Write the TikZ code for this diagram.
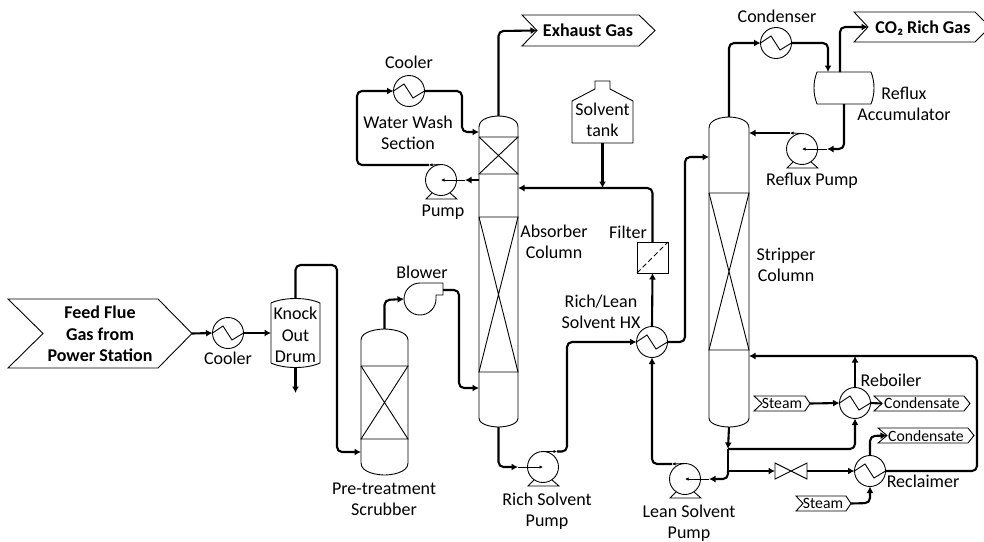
\documentclass[tikz,border=0pt]{standalone}
\usepackage{fontspec}
\setmainfont{Carlito}
\usetikzlibrary{arrows.meta,calc}
\tikzset{
  outline/.style={line width=0.9pt,black},
  pipe/.style={line width=2.1pt,black,rounded corners=5pt,-{Latex[length=6.5pt,width=7pt]}},
  plainpipe/.style={line width=2.1pt,black,rounded corners=5pt},
  thinpipe/.style={line width=0.9pt,black,-{Latex[length=3.5pt,width=3.5pt]}},
  disc/.style={circle,draw,line width=0.9pt,minimum size=31pt,inner sep=0pt,outer sep=0pt},
  vessel/.style={rectangle,draw=none,inner sep=0pt,outer sep=0pt},
  lbl/.style={font=\fontsize{18}{21.3}\selectfont,align=center,inner sep=0pt},
  slbl/.style={lbl,font=\fontsize{15.7}{19}\selectfont},
  blbl/.style={lbl,font=\fontsize{18}{21.3}\selectfont\bfseries},
}
% heat exchanger: name, position
\newcommand\hxunit[2]{\node[disc] (#1) at (#2) {};
  \draw[outline] ($(#1)+(-15.5,0)$) -- ($(#1)+(-5,-7)$) -- ($(#1)+(4,7)$) -- ($(#1)+(15.5,0)$);}
% pump: name, position
\newcommand\pumpunit[2]{\node[disc] (#1) at (#2) {};
  \draw[outline] ($(#1)+(-9,13)$) -- ($(#1)+(-15,19)$) -- ($(#1)+(16,19)$) -- ($(#1)+(9,13)$);}
% column: name, x1, x2, top, shoulder, bottom shoulder, bottom
\newcommand\columnunit[7]{%
  \node[vessel,minimum width=#3pt-#2pt,minimum height=#7pt-#4pt] (#1) at ({(#2+#3)/2},{(#4+#7)/2}) {};
  \draw[outline] (#2,#5) .. controls (#2,{#4+2}) and ({(#2+#3)/2-6},#4) .. ({(#2+#3)/2},#4)
     .. controls ({(#2+#3)/2+6},#4) and (#3,{#4+2}) .. (#3,#5) -- (#3,#6)
     .. controls (#3,{#7-2}) and ({(#2+#3)/2+6},#7) .. ({(#2+#3)/2},#7)
     .. controls ({(#2+#3)/2-6},#7) and (#2,{#7-2}) .. (#2,#6) -- cycle;}
% tag: name, x1, notch x, corner x, tip x, y1, y2
\newcommand\tagunit[7]{%
  \draw[outline] (#2,#6) -- (#4,#6) -- (#5,{(#6+#7)/2}) -- (#4,#7) -- (#2,#7) -- (#3,{(#6+#7)/2}) -- cycle;
  \coordinate (#1-in) at (#3,{(#6+#7)/2});
  \coordinate (#1-out) at (#5,{(#6+#7)/2});}
\begin{document}
\begin{tikzpicture}[x=1pt,y=-1pt]
\useasboundingbox (0,0) rectangle (984,541);

% ---------- streams
\tagunit{feed}{8}{43}{158}{192}{299}{368}
\node[blbl] (feedtxt) at (100,334) {Feed Flue\\Gas from\\Power Station};
\tagunit{exh}{522}{537}{639}{655}{15}{46}
\node[blbl] (exhtxt) at (588,30) {Exhaust Gas};
\tagunit{co}{854}{868}{975}{990}{12}{42}
\node[blbl] (cotxt) at (923,28) {CO₂ Rich Gas};
\tagunit{st1}{754}{762}{805}{810}{396}{411}
\node[slbl] (st1txt) at (782,403) {Steam};
\tagunit{st2}{796}{803}{846}{851}{496}{511}
\node[slbl] (st2txt) at (823,503) {Steam};
\tagunit{co1}{874}{882}{964}{970}{396}{411}
\node[slbl] (co1txt) at (922,403) {Condensate};
\tagunit{co2}{878}{887}{968}{974}{428}{443}
\node[slbl] (co2txt) at (926,436) {Condensate};

% ---------- columns
\columnunit{scr}{361}{408}{329}{340}{463}{475}
\draw[outline] (scr.west |- 0,366) -- (scr.east |- 0,366) -- (scr.west |- 0,439) -- (scr.east |- 0,439) -- (scr.west |- 0,366);
\columnunit{abs}{479}{518}{116}{127}{418}{427}
\draw[outline] (abs.west |- 0,137) -- (abs.east |- 0,137) -- (abs.west |- 0,174) -- (abs.east |- 0,174) -- (abs.west |- 0,137);
\draw[outline] (abs.west |- 0,217) -- (abs.east |- 0,217) -- (abs.west |- 0,372) -- (abs.east |- 0,372) -- (abs.west |- 0,217);
\columnunit{str}{709}{749}{117}{128}{418}{427}
\draw[outline] (str.west |- 0,193) -- (str.east |- 0,193) -- (str.west |- 0,350) -- (str.east |- 0,350) -- (str.west |- 0,193);

% ---------- drums, tank, filter, valve, blower
\node[vessel,minimum width=49pt,minimum height=69pt] (ko) at (295.5,332.5) {};
\draw[outline] (271,303) .. controls (284,297) and (307,297) .. (320,303) -- (320,363)
   .. controls (307,369) and (284,369) .. (271,363) -- cycle;
\node[lbl] (kotxt) at (295.5,335) {Knock\\Out\\Drum};

\node[vessel,minimum width=60pt,minimum height=32pt] (acc) at (844,88) {};
\draw[outline] (817,72) -- (871,72) .. controls (875,82) and (875,94) .. (871,104) -- (817,104)
   .. controls (813,94) and (813,82) .. (817,72) -- cycle;

\node[vessel,minimum width=61pt,minimum height=62pt] (tank) at (602.5,112) {};
\draw[outline] (572,143) -- (572,101) -- (595,89) -- (595,81) -- (610,81) -- (610,89) -- (633,101) -- (633,143) -- cycle;
\node[lbl] (tanktxt) at (602.5,120) {Solvent\\tank};

\node[rectangle,draw,line width=0.9pt,minimum size=31pt,inner sep=0pt,outer sep=0pt] (filt) at (652.5,257.5) {};
\draw[outline,dashed,dash pattern=on 5pt off 3pt] (filt.south west) -- (filt.north east);

\node[vessel,minimum width=32pt,minimum height=16pt] (val) at (791,471) {};
\draw[outline] (775,463) -- (807,479) -- (807,463) -- (775,479) -- cycle;

\node[circle,minimum size=32pt,inner sep=0pt,outer sep=0pt] (blow) at (420,299) {};
\coordinate (blowout) at (443,290);
\draw[outline] (420,283) -- (443,283) -- (443,295) -- (436,295) -- (436,299)
   arc[start angle=0,end angle=270,radius=16] ;

% ---------- exchangers and pumps
\hxunit{cool1}{228,333}
\hxunit{cool2}{409,91}
\hxunit{hx}{652,342}
\hxunit{cond}{776,43}
\hxunit{reb}{855,403}
\hxunit{rec}{870,471}
\pumpunit{pw}{441,180}
\pumpunit{pr}{543,467}
\pumpunit{pl}{685,479}
\pumpunit{pf}{802,149}

% ---------- connector helpers
\coordinate (pwin) at (465,180);
\coordinate (prin) at (518,467);
\coordinate (plin) at (709,479);
\coordinate (pfin) at (827,149);
\coordinate (pwout) at (429,165);
\coordinate (prout) at (557,451.5);
\coordinate (plout) at (672,464);
\coordinate (pfout) at (790,133);
\coordinate (j1) at (728,449);
\coordinate (j2) at (728,471);
\coordinate (j3) at (602.5,188);
\coordinate (j4) at (855,356);
\coordinate (kodrain) at (295.5,393);

% ---------- pipes
\draw[pipe] (feed-out) -- (cool1.west);
\draw[pipe] (cool1.east) -- (ko.west |- cool1.east);
\draw[pipe] (ko.north) -- (295.5,265) -- (337,265) -- (337,452) -- (scr.west |- 0,452);
\draw[pipe] (ko.south) -- (kodrain);
\draw[pipe] (scr.north) -- (384.5,300) -- (blow.west);
\draw[pipe] (blowout) -- (459,290) -- (459,388) -- (abs.west |- 0,388);
\draw[pipe] (abs.south) -- (498.5,467) -- (prin);
\draw[thinpipe] (prin) -- (pr.center);
\draw[thinpipe] (pr.north) -- (prout);
\draw[pipe] (prout) -- (567,451.5) -- (567,342) -- (hx.west);
\draw[pipe] (abs.north) -- (498.5,31) -- (exh-in);
\draw[pipe] (abs.west |- 0,180) -- (pwin);
\draw[thinpipe] (pwin) -- (pw.center);
\draw[thinpipe] (pw.north) -- (pwout);
\draw[pipe] (pwout) -- (357,165) -- (357,91) -- (cool2.west);
\draw[pipe] (cool2.east) -- (462,91) -- (462,132) -- (abs.west |- 0,132);
\draw[pipe] (hx.north) -- (filt.south);
\draw[pipe] (filt.north) -- (652.5,188) -- (abs.east |- 0,188);
\draw[pipe] (tank.south) -- (j3);
\draw[pipe] (hx.east) -- (685,342) -- (685,157) -- (str.west |- 0,157);
\draw[pipe] (str.north) -- (729,43) -- (cond.west);
\draw[pipe] (cond.east) -- (828,43) -- (828,72);
\draw[pipe] (840,72) -- (840,27) -- (co-in);
\draw[pipe] (acc.south) -- (844,149) -- (pfin);
\draw[thinpipe] (pfin) -- (pf.center);
\draw[thinpipe] (pf.north) -- (pfout);
\draw[pipe] (pfout) -- (str.east |- 0,133);
\draw[pipe] (str.south) -- (j1);
\draw[plainpipe] (j1) -- (j2);
\draw[pipe] (j2) -- (728,479) -- (plin);
\draw[thinpipe] (plin) -- (pl.center);
\draw[thinpipe] (pl.north) -- (plout);
\draw[pipe] (plout) -- (652,464) -- (hx.south);
\draw[pipe] (j1) -- (855,449) -- (reb.south);
\draw[pipe] (j2) -- (val.west);
\draw[pipe] (val.east) -- (rec.west);
\draw[pipe] (rec.east) -- (977,471) -- (977,356) -- (str.east |- 0,356);
\draw[pipe] (reb.north) -- (j4);
\draw[pipe] (st1-out) -- (reb.west);
\draw[plainpipe] (reb.east) -- (co1-in);
\draw[pipe] (rec.north) -- (870,436) -- (co2-in);
\draw[pipe] (st2-out) -- (870,503) -- (rec.south);

% ---------- labels
\node[lbl] (l1) at (228,358) {Cooler};
\node[lbl] (l2) at (409,62) {Cooler};
\node[lbl] (l3) at (408,133) {Water Wash\\Section};
\node[lbl] (l4) at (443,212) {Pump};
\node[lbl] (l5) at (554,242) {Absorber\\Column};
\node[lbl] (l6) at (628,232) {Filter};
\node[lbl] (l7) at (777,16) {Condenser};
\node[lbl] (l8) at (904,104) {Reflux\\Accumulator};
\node[lbl] (l9) at (812,181) {Reflux Pump};
\node[lbl] (l10) at (786,265) {Stripper\\Column};
\node[lbl] (l11) at (601,312) {Rich/Lean\\Solvent HX};
\node[lbl] (l12) at (422,272) {Blower};
\node[lbl] (l13) at (384,499) {Pre-treatment\\Scrubber};
\node[lbl] (l14) at (547,511) {Rich Solvent\\Pump};
\node[lbl] (l15) at (689,523) {Lean Solvent\\Pump};
\node[lbl] (l16) at (891,380) {Reboiler};
\node[lbl] (l17) at (923,481) {Reclaimer};
\end{tikzpicture}
\end{document}
